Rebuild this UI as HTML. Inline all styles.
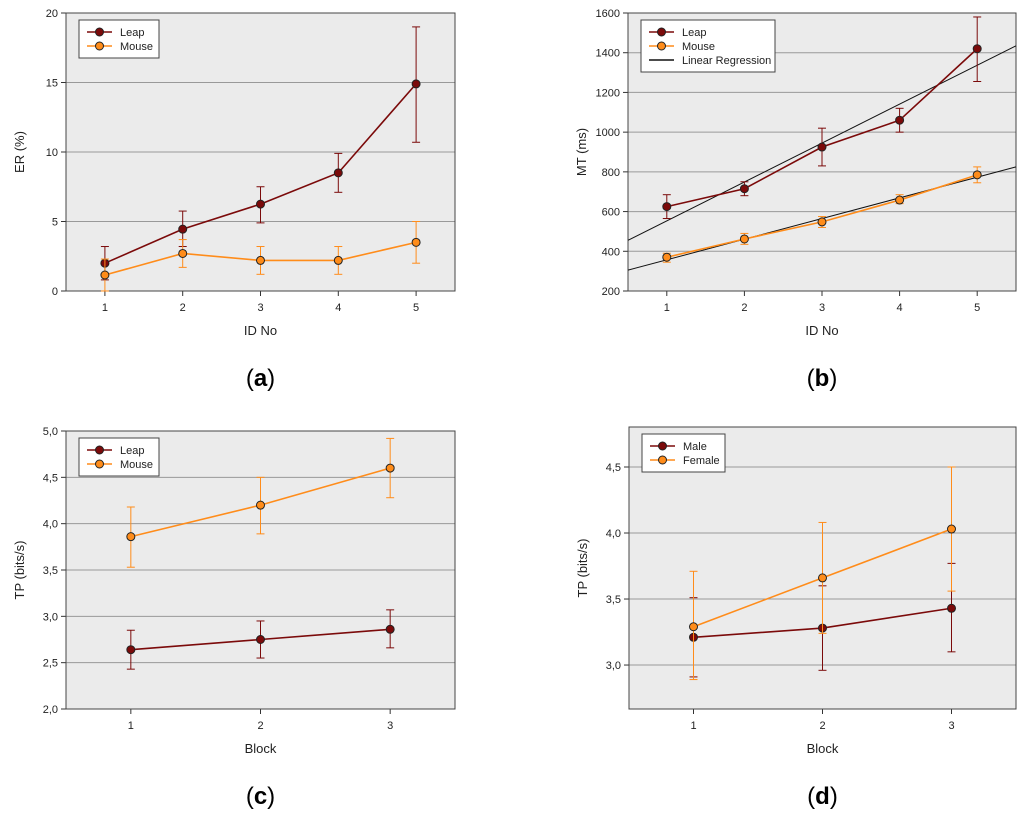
<!DOCTYPE html>
<html><head><meta charset="utf-8"><style>
body{margin:0;background:#fff;width:1024px;height:818px;overflow:hidden;font-family:"Liberation Sans",sans-serif}
svg text{font-family:"Liberation Sans",sans-serif}
</style></head><body>
<svg id="c" width="1024" height="818" xmlns="http://www.w3.org/2000/svg"></svg>
<script>
const xCatsA=[1,2,3,4,5];
const leapER=[2.0,4.45,6.25,8.5,14.9];
const leapERlo=[0.8,3.2,4.9,7.1,10.7];
const leapERhi=[3.2,5.75,7.5,9.9,19.0];
const mouseER=[1.15,2.7,2.2,2.2,3.5];
const mouseERlo=[0.0,1.7,1.2,1.2,2.0];
const mouseERhi=[2.3,3.7,3.2,3.2,5.0];
const yTicksA=[0,5,10,15,20];
const leapMT=[625,715,925,1060,1420];
const leapMTlo=[565,680,830,1000,1255];
const leapMThi=[685,750,1020,1120,1580];
const mouseMT=[370,462,548,658,785];
const mouseMTlo=[345,435,520,640,745];
const mouseMThi=[390,490,575,685,825];
const leapReg=[357,196];
const mouseReg=[253,104];
const yTicksB=[200,400,600,800,1000,1200,1400,1600];
const xCatsC=[1,2,3];
const leapTP=[2.64,2.75,2.86];
const leapTPlo=[2.43,2.55,2.66];
const leapTPhi=[2.85,2.95,3.07];
const mouseTP=[3.86,4.20,4.60];
const mouseTPlo=[3.53,3.89,4.28];
const mouseTPhi=[4.18,4.50,4.92];
const yTicksC=[2.0,2.5,3.0,3.5,4.0,4.5,5.0];
const maleTP=[3.21,3.28,3.43];
const maleTPlo=[2.91,2.96,3.10];
const maleTPhi=[3.51,3.60,3.77];
const femaleTP=[3.29,3.66,4.03];
const femaleTPlo=[2.89,3.24,3.56];
const femaleTPhi=[3.71,4.08,4.50];
const yTicksD=[3.0,3.5,4.0,4.5];

const NS="http://www.w3.org/2000/svg";
const svg=document.getElementById('c');
function el(t,a,p){const e=document.createElementNS(NS,t);for(const k in a)e.setAttribute(k,a[k]);(p||svg).appendChild(e);return e;}
const DARK="#7b0a0a",ORG="#ff8c1a";
function panel(o){
  const g=el('g',{});
  
  
  const X0=o.x0,X1=o.x1,Y0=o.y0,Y1=o.y1;
  const ys=v=>Y1-(v-o.ymin)/(o.ymax-o.ymin)*(Y1-Y0);
  const xs=v=>X0+(v-o.xmin)/(o.xmax-o.xmin)*(X1-X0);
  const bg=el('rect',{x:X0,y:Y0,width:X1-X0,height:Y1-Y0,fill:"#ebebeb"},g);
  
  o.yt.forEach(t=>{const y=ys(t);
    if(y>Y0+1&&y<Y1-1)el('line',{x1:X0,x2:X1,y1:y,y2:y,stroke:"#999","stroke-width":1},g);
    el('line',{x1:X0-5,x2:X0,y1:y,y2:y,stroke:"#333"},g);
    const tx=el('text',{x:X0-8,y:y+4,"text-anchor":"end","font-size":11,fill:"#222"},g);tx.textContent=o.fmt(t);
    });
  o.xc.forEach(c=>{const x=xs(c);el('line',{x1:x,x2:x,y1:Y1,y2:Y1+5,stroke:"#333"},g);
    const tx=el('text',{x:x,y:Y1+20,"text-anchor":"middle","font-size":11,fill:"#222"},g);tx.textContent=c;
    });
  el('rect',{x:X0,y:Y0,width:X1-X0,height:Y1-Y0,fill:"none",stroke:"#444","stroke-width":1},g);
  const xt=el('text',{x:(X0+X1)/2,y:Y1+44,"text-anchor":"middle","font-size":13,fill:"#222"},g);xt.textContent=o.xlabel;
  
  const yt=el('text',{x:X0-42,y:(Y0+Y1)/2,"text-anchor":"middle","font-size":13,fill:"#222",transform:`rotate(-90 ${X0-42} ${(Y0+Y1)/2})`},g);yt.textContent=o.ylabel;
  
  const cap=el('text',{x:(X0+X1)/2,y:Y1+95,"text-anchor":"middle","font-size":24,"font-family":"Liberation Serif",fill:"#000"},g);
  cap.innerHTML='(<tspan font-weight="bold">'+o.cap+'</tspan>)';
  
  (o.regs||[]).forEach(r=>{const l=el('line',{x1:X0,x2:X1,y1:ys(r[0]+r[1]*o.xmin),y2:ys(r[0]+r[1]*o.xmax),stroke:"#111","stroke-width":1},g);
    });
  o.series.forEach(s=>{
    const sg=el('g',{},g);
    s.v.forEach((v,i)=>{const x=xs(o.xc[i]);const a=ys(s.lo[i]),b=ys(s.hi[i]);
      el('line',{x1:x,x2:x,y1:a,y2:b,stroke:s.c},sg);
      el('line',{x1:x-4,x2:x+4,y1:a,y2:a,stroke:s.c},sg);
      el('line',{x1:x-4,x2:x+4,y1:b,y2:b,stroke:s.c},sg);});
    el('polyline',{points:s.v.map((v,i)=>xs(o.xc[i])+','+ys(v)).join(' '),fill:"none",stroke:s.c,"stroke-width":1.6},sg);
    s.v.forEach((v,i)=>{const p=el('circle',{cx:xs(o.xc[i]),cy:ys(v),r:4,fill:s.c,stroke:"#222","stroke-width":1},sg);
      });
  });
  const n=o.legend.length,lw=o.legW;
  const lg=el('g',{},g);
  el('rect',{x:X0+13,y:Y0+7,width:lw,height:10+n*14,fill:"#fff",stroke:"#444"},lg);
  o.legend.forEach((L,i)=>{const y=Y0+19+i*14;
    el('line',{x1:X0+21,x2:X0+46,y1:y,y2:y,stroke:L[1],"stroke-width":1.5},lg);
    if(L[2])el('circle',{cx:X0+33.5,cy:y,r:4,fill:L[1],stroke:"#222"},lg);
    const t=el('text',{x:X0+54,y:y+4,"font-size":11,fill:"#222"},lg);t.textContent=L[0];
    });
}
const f0=v=>String(v),f1=v=>v.toFixed(1).replace('.',',');
panel({name:'panel-a-error-rate',x0:66,x1:455,y0:13,y1:291,xmin:0.5,xmax:5.5,ymin:0,ymax:20,xc:xCatsA,yt:yTicksA,fmt:f0,xlabel:'ID No',ylabel:'ER (%)',cap:'a',legW:80,
 legend:[['Leap',DARK,1],['Mouse',ORG,1]],
 series:[{name:'series-leap',c:DARK,v:leapER,lo:leapERlo,hi:leapERhi},{name:'series-mouse',c:ORG,v:mouseER,lo:mouseERlo,hi:mouseERhi}]});
panel({name:'panel-b-movement-time',x0:628,x1:1016,y0:13,y1:291,xmin:0.5,xmax:5.5,ymin:200,ymax:1600,xc:xCatsA,yt:yTicksB,fmt:f0,xlabel:'ID No',ylabel:'MT (ms)',cap:'b',legW:134,regs:[leapReg,mouseReg],
 legend:[['Leap',DARK,1],['Mouse',ORG,1],['Linear Regression','#111',0]],
 series:[{name:'series-leap',c:DARK,v:leapMT,lo:leapMTlo,hi:leapMThi},{name:'series-mouse',c:ORG,v:mouseMT,lo:mouseMTlo,hi:mouseMThi}]});
panel({name:'panel-c-throughput',x0:66,x1:455,y0:431,y1:709,xmin:0.5,xmax:3.5,ymin:2,ymax:5,xc:xCatsC,yt:yTicksC,fmt:f1,xlabel:'Block',ylabel:'TP (bits/s)',cap:'c',legW:80,
 legend:[['Leap',DARK,1],['Mouse',ORG,1]],
 series:[{name:'series-leap',c:DARK,v:leapTP,lo:leapTPlo,hi:leapTPhi},{name:'series-mouse',c:ORG,v:mouseTP,lo:mouseTPlo,hi:mouseTPhi}]});
panel({name:'panel-d-throughput-gender',x0:629,x1:1016,y0:427,y1:709,xmin:0.5,xmax:3.5,ymin:2.667,ymax:4.803,xc:xCatsC,yt:yTicksD,fmt:f1,xlabel:'Block',ylabel:'TP (bits/s)',cap:'d',legW:83,
 legend:[['Male',DARK,1],['Female',ORG,1]],
 series:[{name:'series-male',c:DARK,v:maleTP,lo:maleTPlo,hi:maleTPhi},{name:'series-female',c:ORG,v:femaleTP,lo:femaleTPlo,hi:femaleTPhi}]});
</script>
</body></html>
